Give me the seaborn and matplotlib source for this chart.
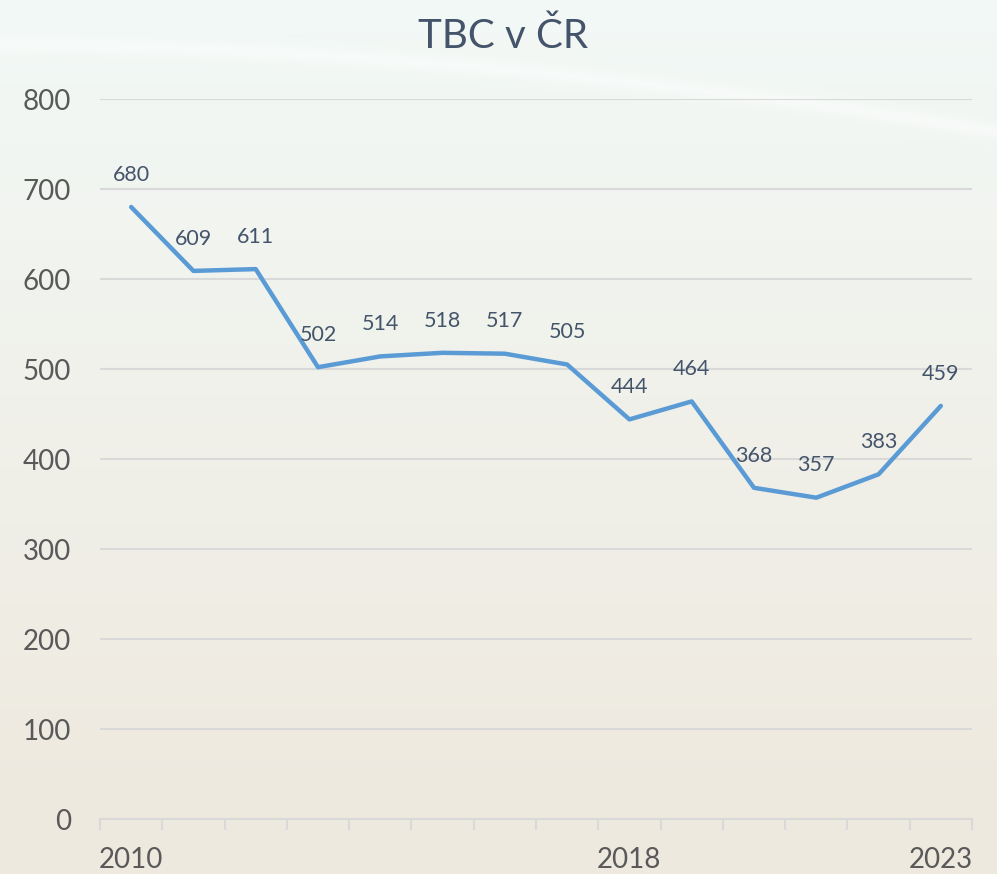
import numpy as np
import pandas as pd
import matplotlib
matplotlib.use("Agg")
import matplotlib.pyplot as plt
import seaborn as sns

years = list(range(2010, 2024))
cases = [680, 609, 611, 502, 514, 518, 517, 505, 444, 464, 368, 357, 383, 459]
shown_years = {2010, 2018, 2023}

sns.set_style("white")
plt.rcParams['font.family'] = ['Lato', 'DejaVu Sans']

df = pd.DataFrame({"rok": [str(y) for y in years], "pocet": cases})

fig = plt.figure(figsize=(9.97, 8.74), dpi=100)

# background: soft gradient with a light swoosh near the top
bg = fig.add_axes([0, 0, 1, 1], zorder=-10)
h, w = 874, 997
yy, xx = np.mgrid[0:h, 0:w] / np.array([h, w])[:, None, None]
top = np.array([0.95, 0.975, 0.965])
bottom = np.array([0.935, 0.915, 0.875])
t = np.clip(yy * 1.1, 0, 1)[..., None]
img = top * (1 - t) + bottom * t
curve = 0.05 + 0.10 * xx ** 1.8
swoosh = np.exp(-((yy - curve) / 0.01) ** 2)[..., None]
img = img * (1 - 0.4 * swoosh) + 0.4 * swoosh
bg.imshow(np.clip(img, 0, 1), aspect="auto", extent=[0, 1, 0, 1])
bg.axis("off")

ax = fig.add_axes([100 / 997, 55 / 874, 872 / 997, 720 / 874])
ax.patch.set_alpha(0)
sns.lineplot(data=df, x="rok", y="pocet", ax=ax, color="#5B9BD5", linewidth=3.2, sort=False)

for i, v in enumerate(cases):
    ax.annotate(str(v), (i, v), xytext=(0, 16), textcoords="offset points",
                ha="center", va="bottom", fontsize=15.5, color="#44546A")

ax.set_xlim(-0.5, len(years) - 0.5)
ax.set_ylim(0, 800)
ax.set_yticks(range(0, 801, 100))
ax.yaxis.grid(True, color="#D9D9D9", linewidth=1.5)
ax.set_axisbelow(True)
ax.set_xticks(range(len(years)))
ax.set_xticklabels([str(y) if y in shown_years else "" for y in years])
ax.set_xticks(np.arange(-0.5, len(years)), minor=True)
ax.tick_params(axis="x", which="major", bottom=False, length=0, pad=20, labelsize=20, labelcolor="#595959")
ax.tick_params(axis="x", which="minor", bottom=True, direction="out", length=8, width=1.5, color="#D9D9D9")
ax.tick_params(axis="y", length=0, pad=21, labelsize=20, labelcolor="#595959")
for s in ["top", "right", "left"]:
    ax.spines[s].set_visible(False)
ax.spines["bottom"].set_color("#D9D9D9")
ax.spines["bottom"].set_linewidth(1.5)
ax.set_xlabel("")
ax.set_ylabel("")

fig.text(0.505, 0.958, "TBC v ČR", ha="center", va="center", fontsize=29, color="#44546A")

fig.savefig("out.png", dpi=100)
